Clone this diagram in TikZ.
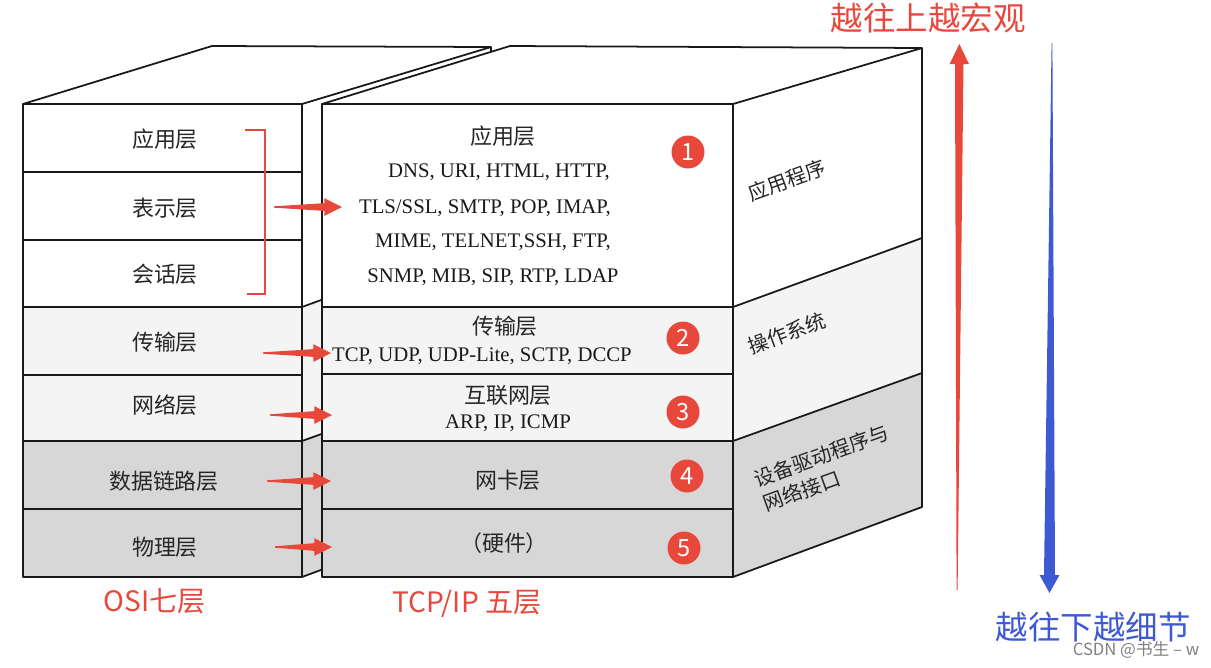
\documentclass[tikz,border=0pt]{standalone}
\usepackage{fontspec}
\setmainfont{Liberation Serif}
\newfontfamily\cjk{Noto Sans CJK SC}
\usetikzlibrary{calc}
\definecolor{arrred}{RGB}{232,72,60}
\definecolor{arrblue}{RGB}{62,90,210}
\definecolor{lgray}{RGB}{244,244,244}
\definecolor{dgray}{RGB}{215,215,215}
\tikzset{
  boxline/.style={draw=black!90,line width=1pt,line join=round},
  lbl/.style={font=\cjk\fontsize{12.5}{14}\selectfont,text=black!85},
  proto/.style={font=\fontsize{11.8}{14}\selectfont,text=black!90},
  sidelbl/.style={font=\cjk\fontsize{11.5}{15}\selectfont,text=black!85,rotate=20,align=left},
  num/.style={circle,fill=arrred,text=white,minimum size=0.66cm,inner sep=0pt,font=\cjk\fontsize{13.5}{15}\selectfont},
  brk/.style={draw=arrred,line width=1.4pt},
  taper/.style={fill=arrred,to path={let \p1=(\tikztostart), \p2=(\tikztotarget) in
    (\x1,\y1+0.4pt) -- (\x2-10pt,\y2+2.2pt) -- (\x2-10pt,\y2+5pt) -- (\x2,\y2)
    -- (\x2-10pt,\y2-5pt) -- (\x2-10pt,\y2-2.2pt) -- (\x1,\y1-0.4pt) -- cycle}}
}
\begin{document}
\begin{tikzpicture}[x=0.02cm,y=-0.02cm]
  \useasboundingbox (0,0) rectangle (1211,667);

  % OSI block
  \fill[white] (23,104) rectangle (302,307);
  \fill[lgray] (23,307) rectangle (302,441);
  \fill[dgray] (23,441) rectangle (302,577);
  \fill[white] (302,104) -- (491,47) -- (491,238) -- (302,307) -- cycle;
  \fill[lgray] (302,307) -- (491,238) -- (491,373) -- (302,441) -- cycle;
  \fill[dgray] (302,441) -- (491,373) -- (491,507) -- (302,577) -- cycle;
  \fill[white] (23,104) -- (212,46) -- (491,47) -- (302,104) -- cycle;
  \draw[boxline] (23,104) rectangle (302,577);
  \foreach \y in {172,240,307,375,441,509}
    \draw[boxline] (23,\y) -- (302,\y);
  \draw[boxline] (23,104) -- (212,46) -- (491,47) -- (302,104);
  \draw[boxline] (491,47) -- (491,507) -- (302,577);
  \draw[boxline] (302,307) -- (491,238);
  \draw[boxline] (302,441) -- (491,373);

  % TCP/IP block
  \fill[white] (322,104) rectangle (733,307);
  \fill[lgray] (322,307) rectangle (733,441);
  \fill[dgray] (322,441) rectangle (733,577);
  \fill[white] (733,104) -- (922,48) -- (922,238) -- (733,307) -- cycle;
  \fill[lgray] (733,307) -- (922,238) -- (922,373) -- (733,441) -- cycle;
  \fill[dgray] (733,441) -- (922,373) -- (922,507) -- (733,577) -- cycle;
  \fill[white] (322,104) -- (510,46) -- (922,48) -- (733,104) -- cycle;
  \draw[boxline] (322,104) rectangle (733,577);
  \foreach \y in {307,374,441,509}
    \draw[boxline] (322,\y) -- (733,\y);
  \draw[boxline] (322,104) -- (510,46) -- (922,48) -- (733,104);
  \draw[boxline] (922,48) -- (922,507) -- (733,577);
  \draw[boxline] (733,307) -- (922,238);
  \draw[boxline] (733,441) -- (922,373);

  % OSI layers
  \node[lbl] (oapp) at (165,139) {应用层};
  \node[lbl] (opres) at (165,208) {表示层};
  \node[lbl] (osess) at (165,274) {会话层};
  \node[lbl] (otrans) at (165,342) {传输层};
  \node[lbl] (onet) at (165,405) {网络层};
  \node[lbl] (olink) at (164,481) {数据链路层};
  \node[lbl] (ophy) at (165,547) {物理层};

  % TCP/IP layers
  \node[lbl] (tapp) at (503,136) {应用层};
  \node[proto] (tapp1) at (499,172) {DNS, URI, HTML, HTTP,};
  \node[proto] (tapp2) at (485,208) {TLS/SSL, SMTP, POP, IMAP,};
  \node[proto] (tapp3) at (493,242) {MIME, TELNET,SSH, FTP,};
  \node[proto] (tapp4) at (493,277) {SNMP, MIB, SIP, RTP, LDAP};
  \node[lbl] (ttrans) at (505,326) {传输层};
  \node[proto] (ttrans1) at (482,356) {TCP, UDP, UDP-Lite, SCTP, DCCP};
  \node[lbl] (tnet) at (508,395) {互联网层};
  \node[proto] (tnet1) at (508,423) {ARP, IP, ICMP};
  \node[lbl] (tlink) at (508,480) {网卡层};
  \node[lbl] (tphy) at (504,543) {（硬件）};

  \node[num] (n1) at (688,152) {1};
  \node[num] (n2) at (683,338) {2};
  \node[num] (n3) at (683,412) {3};
  \node[num] (n4) at (687,476) {4};
  \node[num] (n5) at (684,548) {5};

  % side labels
  \node[sidelbl] (sapp) at (787,180) {应用程序};
  \node[sidelbl] (sos) at (787,333) {操作系统};
  \node[sidelbl] (sdrv) at (826,468) {设备驱动程序与\\网络接口};

  % bracket and arrows
  \draw[brk] (245,130) -- (265,130) -- (265,294) -- (247,294);
  \coordinate (a1) at (274,207);  \coordinate (b1) at (342,207);
  \coordinate (a2) at (263,353);  \coordinate (b2) at (331,353);
  \coordinate (a3) at (270,415);  \coordinate (b3) at (332,415);
  \coordinate (a4) at (267,481);  \coordinate (b4) at (331,481);
  \coordinate (a5) at (275,547);  \coordinate (b5) at (332,547);
  \foreach \i in {1,...,5}
    \fill[taper] (a\i) to (b\i);

  % up / down arrows
  \fill[arrred] (957.6,590) -- (963.5,64) -- (969,64) -- (959.3,44)
    -- (949.6,64) -- (955,64) -- (956.6,590) -- cycle;
  \fill[arrblue] (1052.4,43) -- (1055,575) -- (1059.5,575) -- (1049.5,593)
    -- (1039.5,575) -- (1044,575) -- (1051.6,43) -- cycle;

  % titles
  \node[font=\cjk\fontsize{18.5}{20}\selectfont,text=arrred] (up) at (928,18) {越往上越宏观};
  \node[font=\cjk\fontsize{18.5}{20}\selectfont,text=arrblue] (down) at (1093,627) {越往下越细节};
  \node[font=\cjk\fontsize{16}{18}\selectfont,text=arrred] (osi) at (155,601) {OSI七层};
  \node[font=\cjk\fontsize{16}{18}\selectfont,text=arrred] (tcp) at (467,604) {TCP/IP 五层};
  \node[font=\cjk\fontsize{9.5}{11}\selectfont,text=black!50] (wm) at (1136,650) {CSDN @书生 – w};
\end{tikzpicture}
\end{document}
